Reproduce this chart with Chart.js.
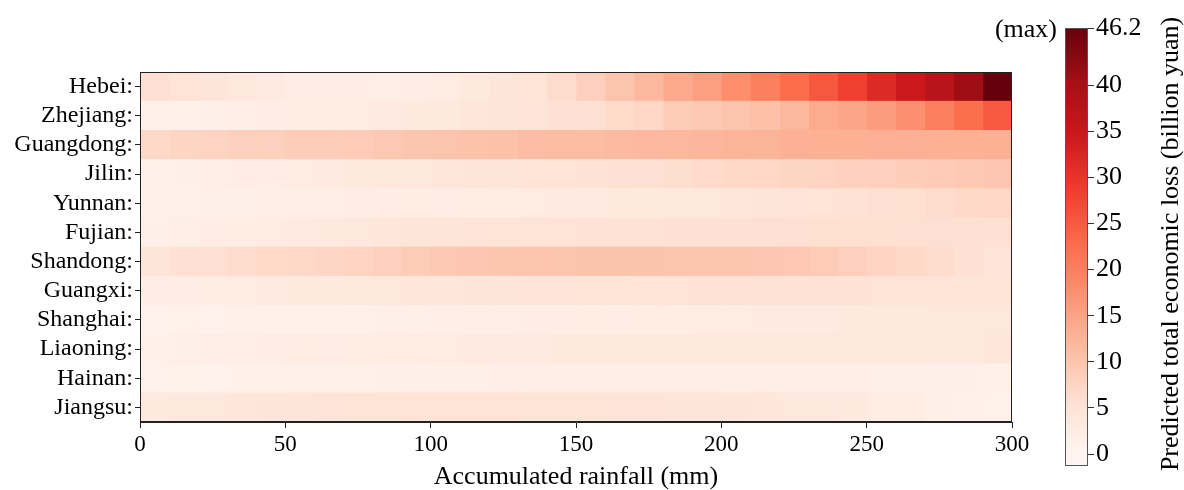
<!DOCTYPE html>
<html>
<head>
<meta charset="utf-8">
<script src="https://cdn.jsdelivr.net/npm/chart.js@4.4.1/dist/chart.umd.min.js"></script>
<style>
  html, body { margin: 0; padding: 0; background: #fff; }
  #wrap { position: relative; width: 1184px; height: 490px; }
  #heatBox { position: absolute; left: 0; top: 0; width: 1040px; height: 490px; }
  #barBox { position: absolute; left: 980px; top: 0; width: 204px; height: 490px; }
</style>
</head>
<body>
<div id="wrap">
  <div id="heatBox"><canvas id="heatChart"></canvas></div>
  <div id="barBox"><canvas id="colorBar"></canvas></div>
</div>
<script>
const provinces = ['Hebei:', 'Zhejiang:', 'Guangdong:', 'Jilin:', 'Yunnan:', 'Fujian:',
  'Shandong:', 'Guangxi:', 'Shanghai:', 'Liaoning:', 'Hainan:', 'Jiangsu:'];

// rainfall bin edges (mm), one cell per bin
const rainfallBins = [0, 10, 20, 30, 40, 50, 60, 70, 80, 90, 100, 110, 120, 130, 140, 150,
  160, 170, 180, 190, 200, 210, 220, 230, 240, 250, 260, 270, 280, 290, 300];
const rainfallTicks = [0, 50, 100, 150, 200, 250, 300];

// predicted total economic loss (billion yuan) per rainfall bin
const lossHebei = [5.8, 5.0, 4.4, 3.6, 3.0, 2.4, 2.2, 2.2, 1.9, 2.2, 2.8, 3.3, 4.4, 5.0, 6.4,
  8.4, 10.1, 12.0, 14.1, 15.6, 18.0, 19.9, 22.7, 25.3, 28.4, 31.7, 34.7, 37.5, 41.0, 46.2];
const lossZhejiang = [1.4, 1.5, 1.7, 1.9, 2.1, 2.3, 2.5, 2.7, 3.0, 3.2, 3.3, 4.1, 4.4, 4.7, 5.6,
  5.8, 6.6, 7.2, 8.9, 9.5, 10.1, 10.9, 12.0, 13.8, 14.5, 16.0, 17.7, 20.0, 22.5, 25.1];
const lossGuangdong = [7.0, 7.5, 7.8, 8.3, 8.3, 8.7, 8.7, 9.1, 9.5, 10.0, 10.1, 10.5, 10.6, 11.2, 11.3,
  11.3, 11.5, 11.8, 12.0, 12.3, 12.5, 12.6, 12.9, 13.0, 13.0, 13.2, 13.2, 13.0, 13.0, 13.0];
const lossJilin = [1.4, 1.6, 1.9, 2.1, 2.4, 2.7, 3.0, 3.2, 3.5, 3.8, 4.1, 4.3, 4.5, 4.8, 5.0,
  5.2, 5.5, 5.8, 6.1, 6.5, 6.9, 7.2, 7.5, 7.8, 8.1, 8.4, 8.7, 9.0, 9.4, 9.8];
const lossYunnan = [1.4, 1.5, 1.6, 1.7, 1.8, 1.9, 2.0, 2.1, 2.2, 2.3, 2.4, 2.5, 2.6, 2.7, 2.9,
  3.0, 3.2, 3.4, 3.6, 3.8, 4.0, 4.4, 4.7, 5.0, 5.3, 5.7, 6.0, 6.4, 6.8, 7.2];
const lossFujian = [1.6, 1.9, 2.2, 2.5, 2.8, 3.1, 3.4, 3.7, 4.0, 4.3, 4.5, 4.6, 4.8, 4.9, 5.0,
  5.1, 5.2, 5.3, 5.4, 5.5, 5.6, 5.8, 5.9, 6.0, 6.0, 6.0, 5.9, 5.8, 5.7, 5.6];
const lossShandong = [4.4, 5.5, 5.9, 6.4, 6.7, 7.0, 7.3, 7.8, 8.3, 8.9, 9.5, 9.8, 10.0, 10.1, 10.2,
  10.3, 10.3, 10.3, 10.2, 10.1, 10.0, 9.8, 9.7, 9.1, 8.4, 7.8, 6.9, 6.4, 5.5, 4.7];
const lossGuangxi = [2.2, 2.4, 2.6, 2.8, 3.0, 3.2, 3.4, 3.6, 3.8, 4.0, 4.2, 4.4, 4.5, 4.6, 4.7,
  4.8, 4.9, 5.0, 5.0, 5.1, 5.2, 5.2, 5.2, 5.1, 5.1, 5.0, 5.0, 5.0, 4.9, 4.9];
const lossShanghai = [0.8, 0.9, 1.0, 1.1, 1.2, 1.3, 1.4, 1.5, 1.6, 1.7, 1.8, 1.9, 2.0, 2.1, 2.2,
  2.3, 2.4, 2.5, 2.6, 2.7, 2.8, 2.9, 3.0, 3.1, 3.2, 3.3, 3.4, 3.5, 3.5, 3.6];
const lossLiaoning = [1.4, 1.6, 1.8, 2.0, 2.2, 2.3, 2.4, 2.5, 2.6, 2.7, 2.8, 2.9, 3.0, 3.1, 3.2,
  3.3, 3.4, 3.5, 3.5, 3.6, 3.6, 3.7, 3.7, 3.8, 3.8, 3.8, 3.9, 3.9, 3.9, 4.0];
const lossHainan = [0.8, 0.9, 1.0, 1.1, 1.2, 1.3, 1.4, 1.5, 1.6, 1.6, 1.7, 1.7, 1.8, 1.8, 1.9,
  1.9, 2.0, 2.0, 2.0, 2.0, 2.0, 1.9, 1.9, 1.8, 1.8, 1.7, 1.7, 1.6, 1.6, 1.5];
const lossJiangsu = [3.2, 3.5, 3.8, 4.1, 4.3, 4.5, 4.7, 4.8, 4.9, 5.0, 5.0, 5.0, 5.0, 4.9, 4.9,
  4.8, 4.7, 4.6, 4.5, 4.4, 4.3, 4.1, 3.8, 3.5, 3.2, 2.8, 2.3, 1.7, 1.2, 0.9];

const lossRows = [lossHebei, lossZhejiang, lossGuangdong, lossJilin, lossYunnan, lossFujian,
  lossShandong, lossGuangxi, lossShanghai, lossLiaoning, lossHainan, lossJiangsu];

const lossMax = 46.2;
const colorBarTicks = [0, 5, 10, 15, 20, 25, 30, 35, 40, 46.2];

// matplotlib "Reds" anchor colours
const reds = [
  [255, 245, 240], [254, 224, 210], [252, 187, 161], [252, 146, 114], [251, 106, 74],
  [239, 59, 44], [203, 24, 29], [165, 15, 21], [103, 0, 13]
];

function redsColor(v) {
  const t = Math.min(1, Math.max(0, v / lossMax)) * (reds.length - 1);
  const i = Math.min(reds.length - 2, Math.floor(t));
  const f = t - i;
  const c = reds[i].map((a, k) => Math.round(a + (reds[i + 1][k] - a) * f));
  return `rgb(${c[0]},${c[1]},${c[2]})`;
}

const serif = "'Liberation Serif', 'Times New Roman', serif";

const frame = (color) => ({
  id: 'frame',
  afterDraw(chart) {
    const { ctx, chartArea: a } = chart;
    ctx.save();
    ctx.strokeStyle = color;
    ctx.lineWidth = 1;
    ctx.strokeRect(Math.round(a.left) + 0.5, Math.round(a.top) + 0.5,
      Math.round(a.right - a.left) - 1, Math.round(a.bottom - a.top) - 1);
    ctx.restore();
  }
});

// one floating bar per rainfall bin, all rows share the full category height
const cellSets = rainfallBins.slice(0, -1).map((x0, j) => ({
  label: x0 + '-' + rainfallBins[j + 1],
  data: lossRows.map(() => [x0, rainfallBins[j + 1]]),
  backgroundColor: lossRows.map(row => redsColor(row[j])),
  borderWidth: 0,
  grouped: false,
  barPercentage: 1,
  categoryPercentage: 1
}));

new Chart(document.getElementById('heatChart'), {
  type: 'bar',
  data: { labels: provinces, datasets: cellSets },
  options: {
    indexAxis: 'y',
    animation: false,
    responsive: true,
    maintainAspectRatio: false,
    layout: { padding: { top: 72, right: 28, left: 0, bottom: 0 } },
    plugins: { legend: { display: false }, tooltip: { enabled: false } },
    scales: {
      x: {
        type: 'linear',
        min: 0,
        max: 300,
        afterBuildTicks: s => { s.ticks = rainfallTicks.map(v => ({ value: v })); },
        afterFit: s => { s.height = 68; },
        ticks: { color: '#000', font: { family: serif, size: 23 }, padding: 3, maxRotation: 0 },
        grid: { drawOnChartArea: false, drawTicks: true, tickLength: 6, color: '#222' },
        border: { display: true, color: '#222' },
        title: {
          display: true,
          text: 'Accumulated rainfall (mm)',
          color: '#000',
          font: { family: serif, size: 26, lineHeight: 1 },
          padding: { top: 0, bottom: 0 }
        }
      },
      y: {
        type: 'category',
        offset: true,
        afterFit: s => { s.width = 140; },
        ticks: { color: '#000', font: { family: serif, size: 24 }, padding: 2, autoSkip: false },
        grid: { offset: false, drawOnChartArea: false, drawTicks: true, tickLength: 5, color: '#222' },
        border: { display: true, color: '#222' }
      }
    }
  },
  plugins: [frame('#222')]
});

const barLabels = {
  id: 'barLabels',
  afterDraw(chart) {
    const { ctx } = chart;
    ctx.save();
    ctx.fillStyle = '#000';
    ctx.font = `26px ${serif}`;
    ctx.textBaseline = 'middle';
    ctx.textAlign = 'right';
    ctx.fillText('(max)', 77, 30);
    ctx.translate(191, 244);
    ctx.rotate(-Math.PI / 2);
    ctx.textAlign = 'center';
    ctx.fillText('Predicted total economic loss (billion yuan)', 0, 0);
    ctx.restore();
  }
};

new Chart(document.getElementById('colorBar'), {
  type: 'bar',
  data: {
    labels: [''],
    datasets: [{
      data: [[-1.3, lossMax]],
      backgroundColor: (c) => {
        const chart = c.chart;
        if (!chart.chartArea) return redsColor(0);
        const ys = chart.scales.y;
        const g = chart.ctx.createLinearGradient(0, ys.getPixelForValue(0), 0, ys.getPixelForValue(lossMax));
        reds.forEach((rgb, i) => g.addColorStop(i / (reds.length - 1), `rgb(${rgb.join(',')})`));
        return g;
      },
      borderWidth: 0,
      barPercentage: 1,
      categoryPercentage: 1
    }]
  },
  options: {
    animation: false,
    responsive: true,
    maintainAspectRatio: false,
    layout: { padding: { top: 28, bottom: 24, left: 85, right: 0 } },
    plugins: { legend: { display: false }, tooltip: { enabled: false } },
    scales: {
      x: { display: false },
      y: {
        position: 'right',
        min: -1.3,
        max: lossMax,
        afterBuildTicks: s => { s.ticks = colorBarTicks.map(v => ({ value: v })); },
        afterFit: s => { s.width = 96; },
        ticks: {
          color: '#000',
          font: { family: serif, size: 26 },
          padding: 2,
          autoSkip: false,
          callback: v => (Number.isInteger(v) ? String(v) : v.toFixed(1))
        },
        grid: { drawOnChartArea: false, drawTicks: true, tickLength: 6, color: '#333' },
        border: { display: false }
      }
    }
  },
  plugins: [frame('#555'), barLabels]
});
</script>
</body>
</html>
